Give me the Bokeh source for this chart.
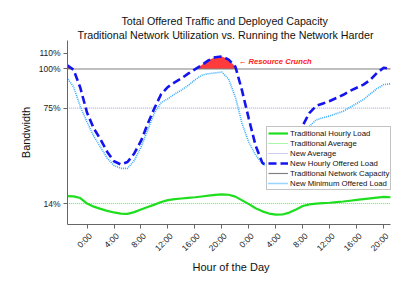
import numpy as np
from bokeh.plotting import figure
from bokeh.models import Range1d, FixedTicker, Legend, LegendItem, Label, Title, LinearAxis
from bokeh.embed import file_html
from bokeh.resources import INLINE

# ---- data (hours from 21:00 of the previous day to 21:00 of day 2) ----
hours = list(range(-3, 46))
trad_load = [18.7, 18.6, 17.5, 14.0, 12.0, 10.6, 9.3, 8.3, 7.6, 7.4,
             8.5, 10.2, 11.8, 13.3, 15.0, 16.2, 16.8, 17.2, 17.6, 18.0,
             18.5, 19.0, 19.5, 19.8, 19.6, 18.4, 16.0, 13.6, 11.0, 9.0,
             7.6, 6.9, 7.0, 8.2, 10.2, 12.4, 13.5, 13.9, 14.2, 14.5,
             14.9, 15.3, 15.8, 16.3, 16.8, 17.3, 17.8, 18.3, 18.0]
new_load = [102.5, 99.5, 88, 72, 62, 55, 47, 41, 39, 40.5,
            46, 54, 65, 75, 84, 88.5, 91.5, 94, 97, 99.8,
            102.5, 105.5, 107.5, 108, 106, 101.5, 86, 68, 51, 40,
            37.5, 37.5, 40, 47, 56, 64, 72, 76.5, 78, 79.5,
            81.5, 83.5, 86, 88, 90, 93, 97.5, 100.8, 100.2]
new_min = [94.5, 88.5, 76, 66, 57, 50, 43, 38.3, 36.5, 36.5,
           41.5, 50, 61, 72, 78.5, 81, 84, 86.5, 89.5, 93,
           96, 97, 97.5, 98, 93.5, 82, 65, 53, 45, 39.5,
           37, 37, 40, 47, 53, 57, 63.5, 67.5, 68.8, 70,
           71.5, 73, 75.5, 78, 80.5, 84, 87.5, 90, 90.5]
trad_avg = 14
new_avg = 75
capacity = 100
y_ticks = [14, 75, 100, 110]
y_tick_labels = {t: f"{t}%" for t in y_ticks}
x_ticks = list(range(0, 45, 4))
x_tick_labels = {t: f"{t % 24}:00" for t in x_ticks}
title_1 = "Total Offered Traffic and Deployed Capacity"
title_2 = "Traditional Network Utilization vs. Running the Network Harder"
crunch_label = "\u2190 Resource Crunch"

FONT = "Liberation Sans"
X0, X1 = -2.9, 45.6
LABEL_SHIFT = 0.5  # hours: rotated labels sit a little right of their ticks

p = figure(width=415, height=287, output_backend="svg", toolbar_location=None,
           x_range=Range1d(X0, X1), y_range=Range1d(0.6, 118.2),
           min_border_left=67, min_border_right=21, min_border_top=40,
           min_border_bottom=63)
p.outline_line_color = None
p.grid.visible = False
p.background_fill_color = "white"

p.title.text = title_1
p.title.align = "left"
p.title.offset = 54
p.title.text_font = FONT
p.title.text_font_size = "10.7px"
p.title.text_font_style = "normal"
p.title.text_color = "#111111"
p.title.standoff = 0
p.add_layout(Title(text=title_2, align="left", offset=10, text_font=FONT,
                   text_font_size="10.7px", text_font_style="normal",
                   text_color="#111111", standoff=0), "above")

# ---- resource crunch fill (where offered load exceeds capacity) ----
fx, fy = [], []
for i in range(len(hours)):
    if i > 0:
        a, b = new_load[i - 1], new_load[i]
        if (a - capacity) * (b - capacity) < 0:
            t = (capacity - a) / (b - a)
            fx.append(hours[i - 1] + t * (hours[i] - hours[i - 1]))
            fy.append(capacity)
    fx.append(hours[i])
    fy.append(max(new_load[i], capacity))
p.varea(x=fx, y1=[capacity] * len(fx), y2=fy, fill_color="#ff3b3b")

xspan = [hours[0], hours[-1]]
r_tavg = p.line(xspan, [trad_avg, trad_avg], line_color="#55ee55", line_width=1, line_dash="1 1")
r_navg = p.line(xspan, [new_avg, new_avg], line_color="#9a9ae8", line_width=1, line_dash="1 1")
r_cap = p.line(xspan, [capacity, capacity], line_color="#808080", line_width=1.2)
r_tl = p.line(hours, trad_load, line_color="#1ede1e", line_width=2.2)
r_nmin = p.line(hours, new_min, line_color="#33aaff", line_width=1.6, line_dash="1 1")
r_nl = p.line(hours, new_load, line_color="#1414f0", line_width=2.6, line_dash="8 4")

p.add_layout(Label(x=22.5, y=104.8, text=crunch_label, text_color="#ff2020",
                   text_font=FONT, text_font_size="7.6px", text_font_style="bold italic",
                   text_baseline="middle"))

# ---- axes ----
def style(ax):
    ax.axis_line_color = "#666666"
    ax.major_tick_line_color = "#666666"
    ax.minor_tick_line_color = None
    ax.major_tick_out = 4
    ax.major_tick_in = 0
    ax.major_label_text_font = FONT
    ax.major_label_text_font_size = "8.5px"
    ax.major_label_text_color = "#222222"
    ax.axis_label_text_font = FONT
    ax.axis_label_text_font_size = "11px"
    ax.axis_label_text_font_style = "normal"
    ax.axis_label_text_color = "#111111"

style(p.xaxis[0])
style(p.yaxis[0])

p.yaxis.ticker = FixedTicker(ticks=y_ticks)
p.yaxis.major_label_overrides = y_tick_labels
p.yaxis.axis_label = "Bandwidth"
p.yaxis.axis_label_standoff = 4
p.yaxis.major_label_standoff = 3

# main x axis: line and ticks only
p.xaxis.ticker = FixedTicker(ticks=x_ticks)
p.xaxis.major_label_text_alpha = 0
p.xaxis.major_label_standoff = 0
p.xaxis.bounds = (hours[0], hours[-1])

# label axis: the rotated hour labels and the axis title
p.extra_x_ranges = {"labels": Range1d(X0 - LABEL_SHIFT, X1 - LABEL_SHIFT)}
lab_ax = LinearAxis(x_range_name="labels", ticker=FixedTicker(ticks=x_ticks))
style(lab_ax)
lab_ax.axis_line_color = None
lab_ax.major_tick_line_color = None
lab_ax.major_tick_out = 0
lab_ax.major_label_overrides = x_tick_labels
lab_ax.major_label_orientation = np.pi / 4
lab_ax.major_label_standoff = 6
lab_ax.axis_label = "Hour of the Day"
lab_ax.axis_label_standoff = 1
p.add_layout(lab_ax, "below")

legend = Legend(items=[
    LegendItem(label="Traditional Hourly Load", renderers=[r_tl]),
    LegendItem(label="Traditional Average", renderers=[r_tavg]),
    LegendItem(label="New Average", renderers=[r_navg]),
    LegendItem(label="New Hourly Offered Load", renderers=[r_nl]),
    LegendItem(label="Traditional Network Capacity", renderers=[r_cap]),
    LegendItem(label="New Minimum Offered Load", renderers=[r_nmin]),
], location=(199, 34))
legend.label_text_font = FONT
legend.label_text_font_size = "7.8px"
legend.label_text_color = "#111111"
legend.label_height = 10
legend.glyph_height = 10
legend.glyph_width = 20
legend.label_standoff = 2
legend.spacing = 0
legend.padding = 1
legend.margin = 0
legend.border_line_color = "#888888"
legend.border_line_width = 1
legend.background_fill_alpha = 1
p.add_layout(legend)

open("out.html", "w").write(file_html(p, INLINE))
